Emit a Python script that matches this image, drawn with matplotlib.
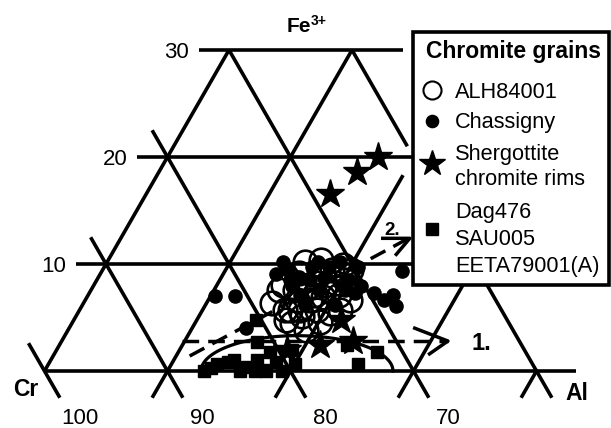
import numpy as np
import matplotlib.pyplot as plt
from matplotlib.lines import Line2D
from matplotlib.patches import Rectangle

plt.rcParams['font.family'] = ['Liberation Sans', 'DejaVu Sans']
plt.rcParams['lines.scale_dashes'] = False

# chromite compositions (Cr and Fe3+ in %, Al = rest)
alh_cr = [78.3, 77.2, 77.6, 76.5, 75.0, 73.9, 72.2, 70.8, 74.5, 74.1, 76.8,
          78.0, 71.9, 71.9, 73.1, 74.7, 75.1, 77.1, 73.2, 72.5, 76.2,
          76.6, 75.8, 74.5, 73.0, 71.3, 72.3, 73.7, 70.4, 76.4, 75.3, 77.6, 73.1]
alh_fe = [6.4, 5.7, 4.5, 5.1, 5.7, 6.9, 8.2, 9.9, 7.9, 5.4, 3.8,
          4.8, 6.6, 9.4, 9.2, 9.2, 6.6, 7.6, 8.0, 7.1, 6.6,
          8.0, 7.6, 7.1, 7.6, 8.5, 10.4, 10.2, 9.4, 5.7, 4.6, 5.7, 5.7]

chas_cr = [82.6, 81.0, 81.6, 76.6, 74.9, 73.4, 72.0, 69.7, 66.3, 68.1, 68.4,
           69.1, 69.6, 70.3, 75.9, 71.0, 70.9, 73.9, 75.7, 73.3, 75.5,
           75.8, 74.2, 72.9, 71.8, 71.1, 75.7, 75.5, 72.7]
chas_fe = [7.0, 7.0, 4.0, 9.1, 8.8, 9.7, 9.7, 9.7, 9.3, 7.1, 6.1,
           6.6, 7.3, 7.9, 7.9, 8.5, 10.2, 7.6, 6.2, 6.2, 9.4,
           8.5, 8.5, 8.7, 7.6, 7.3, 7.1, 10.2, 10.2]

sherg_cr = [62.9, 65.3, 68.5, 79.3, 76.4, 73.5, 73.5]
sherg_fe = [20.0, 18.6, 16.5, 2.0, 2.4, 2.8, 4.8]

dag_cr = [87.0, 86.3, 85.6, 84.7, 84.1, 84.1, 83.3, 82.9, 82.2, 82.2, 82.0,
          80.8, 81.4, 80.8, 80.7, 78.9, 79.3, 80.4, 74.2, 74.2, 72.1]
dag_fe = [0.0, 0.3, 0.7, 0.8, 1.0, 0.0, 0.4, 0.0, 1.0, 0.1, 0.0,
          1.8, 2.7, 0.8, 0.0, 2.0, 0.7, 4.8, 2.4, 0.7, 1.8]

fe_ticks = [10, 20, 30]
cr_ticks = [100, 90, 80, 70]

# trend arrows (start / end as Cr, Fe)
trend1 = [(87.4, 2.8), (65.8, 2.8)]
trend2 = [(87.5, 1.4), (64.2, 12.4)]


def tern(cr, fe):
    cr = np.asarray(cr, float)
    fe = np.asarray(fe, float)
    return 100 - cr - fe / 2, fe


def pix(px, py):
    # picture pixel -> data coords (used only for placing labels)
    return (px - 44.5) / 12.3, (371 - py) / 10.7


fig = plt.figure(figsize=(6.11, 4.28), dpi=100)
ax = fig.add_axes([0, 0, 1, 1])
ax.set_xlim(-44.5 / 12.3, (611 - 44.5) / 12.3)
ax.set_ylim((371 - 428) / 10.7, 371 / 10.7)
ax.axis('off')

LW = 2.6
kw = dict(color='black', lw=LW, solid_capstyle='butt', zorder=1)

# horizontal Fe lines
h_ext = {0: (0, 43.2), 10: (2.55, 31), 20: (7.55, 31), 30: (12.55, 29.15)}
for f, (x0, x1) in h_ext.items():
    ax.plot([x0, x1], [f, f], **kw)

# constant Cr lines (\)
cr_seg = {100: [(-2.5, 2.6)], 90: [(-2.5, 12.5)], 80: [(-2.5, 22.5)],
          70: [(-2.5, 30)], 60: [(-2.5, 8.5), (21, 30)]}
for c, segs in cr_seg.items():
    for lo, hi in segs:
        f = np.array([lo, hi])
        ax.plot(100 - c - f / 2, f, **kw)

# constant Al lines (/)
al_seg = {0: (0, 30), 10: (-2.5, 30), 20: (-2.5, 18.3), 30: (-2.5, 9), 40: (-2.5, 0)}
for a, (lo, hi) in al_seg.items():
    f = np.array([lo, hi])
    ax.plot(a + f / 2, f, **kw)

# tick labels
for f in fe_ticks:
    ax.text(f / 2 - 2.45 - 0.8, f - 0.72, str(f), ha='right', va='baseline', fontsize=16)
for c in cr_ticks:
    ax.text(100 - c + 2.85, -4.95, str(c), ha='center', va='baseline', fontsize=16)

x, y = pix(13, 396)
ax.text(x, y, 'Cr', fontsize=16.5, fontweight='bold', va='baseline')
x, y = pix(565, 400)
ax.text(x, y, 'Al', fontsize=16.5, fontweight='bold', va='baseline')
x, y = pix(287, 32)
ax.text(x, y, 'Fe', fontsize=15, fontweight='bold', va='baseline')
x, y = pix(311, 25)
ax.text(x, y, '3+', fontsize=10, fontweight='bold', va='baseline')

# field outline for the low-Fe grains
t = np.linspace(0, np.pi, 100)
ax.plot(20.53 + 7.8 * np.cos(t), 3.3 * np.sin(t), color='black', lw=2.3, zorder=2)

# trend arrows
dash = dict(color='black', lw=2.5, linestyle=(0, (12, 6.5)), zorder=2)
tx, ty = tern([p[0] for p in trend1], [p[1] for p in trend1])
ax.plot(tx, ty, **dash)
hx, hy = tern([67.9, 65.8, 67.9], [4.0, 2.8, 1.6])
ax.plot(hx, hy, color='black', lw=2.5, zorder=2)
x, y = pix(472, 350)
ax.text(x, y, '1.', fontsize=17, fontweight='bold', va='baseline')

tx, ty = tern([p[0] for p in trend2], [p[1] for p in trend2])
ax.plot(tx, ty, **dash)
hx, hy = tern([66.3, 64.1, 65.95], [12.4, 12.4, 10.9])
ax.plot(hx, hy, color='black', lw=2.5, zorder=2)
x, y = pix(384, 235)
ax.text(x, y, '2.', fontsize=13.5, fontweight='bold', va='baseline')

# data
x, y = tern(dag_cr, dag_fe)
ax.plot(x, y, 's', color='black', ms=9.3, ls='none', zorder=3)
x, y = tern(sherg_cr, sherg_fe)
ax.plot(x, y, '*', color='black', ms=21, ls='none', zorder=3)
x, y = tern(chas_cr, chas_fe)
ax.plot(x, y, 'o', color='black', ms=9.5, ls='none', zorder=3)
x, y = tern(alh_cr, alh_fe)
ax.plot(x, y, 'o', mfc='none', mec='black', mew=1.9, ms=17, ls='none', zorder=4)

# legend box
x0, y0 = pix(413, 285)
x1, y1 = pix(609, 32)
ax.add_patch(Rectangle((x0, y0), x1 - x0, y1 - y0, facecolor='white',
                       edgecolor='black', lw=2.6, zorder=5))
x, y = pix(426, 58)
ax.text(x, y, 'Chromite grains', fontsize=16.5, fontweight='bold', va='baseline', zorder=6)

leg_marks = [('o', dict(mfc='none', mec='black', mew=1.5, ms=13), 90),
             ('o', dict(color='black', ms=8.8), 121),
             ('*', dict(color='black', ms=19), 163),
             ('s', dict(color='black', ms=8.6), 229)]
for m, st, py in leg_marks:
    x, y = pix(432, py)
    ax.add_line(Line2D([x], [y], marker=m, ls='none', zorder=6, **st))

leg_lines = [('ALH84001', 98), ('Chassigny', 128), ('Shergottite', 160),
             ('chromite rims', 185), ('Dag476', 218), ('SAU005', 245),
             ('EETA79001(A)', 272)]
for s, py in leg_lines:
    x, y = pix(455, py)
    ax.text(x, y, s, fontsize=15.7, va='baseline', zorder=6)

fig.savefig('out.png', dpi=100)
